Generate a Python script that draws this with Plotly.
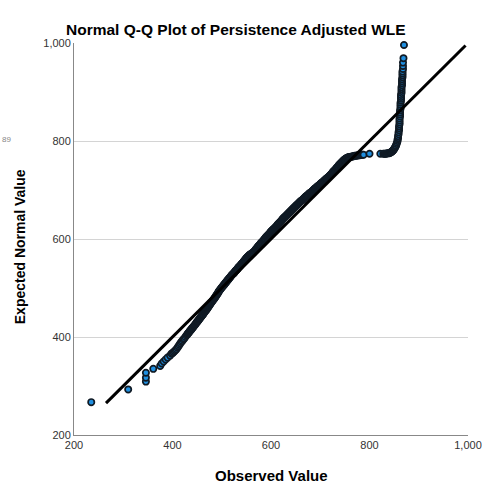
import plotly.graph_objects as go

observed = [
    235, 310, 346, 346, 346, 361, 375, 378, 382, 386, 390, 395, 398,
    400, 402, 404, 406, 408, 410, 412, 414, 416, 418, 420, 422, 424, 426, 428, 430,
    432, 434, 436, 438, 440, 442, 444, 446, 448, 450, 452, 454, 456, 458, 460, 462,
    464, 466, 468, 470, 472, 474, 476, 478, 480, 482, 484, 486, 488, 490, 492, 494,
    496, 498, 500, 502, 504, 506, 508, 510, 512, 514, 516, 518, 520, 522, 524, 526,
    528, 530, 532, 534, 536, 538, 540, 542, 544, 546, 548, 550, 552, 554, 556, 558,
    560, 562, 564, 566, 568, 570, 572, 574, 576, 578, 580, 582, 584, 586, 588, 590,
    592, 594, 596, 598, 600, 602, 604, 606, 608, 610, 612, 614, 616, 618, 620, 622,
    624, 626, 628, 630, 632, 634, 636, 638, 640, 642, 644, 646, 648, 650, 652, 654,
    656, 658, 660, 662, 664, 666, 668, 670, 672, 674, 676, 678, 680, 682, 684, 686,
    688, 690, 692, 694, 696, 698, 700, 702, 704, 706, 708, 710, 712, 714, 716, 718,
    720, 722, 724, 726, 728, 730, 732, 734, 736, 738, 740, 742, 744, 746, 748, 750,
    752, 754, 756, 758, 760, 762, 764, 766, 768, 770, 772, 774, 776, 778, 780, 782,
    784, 786, 788,
    800, 822,
    828, 830, 832, 834, 836, 838, 840, 842, 843, 844, 845, 846, 847, 848, 849, 850,
    851, 852, 853, 854, 855, 856, 857, 857, 858, 858, 859, 859, 860, 860, 860, 861,
    861, 861, 861, 862, 862, 862, 862, 863, 863, 863, 863, 864, 864, 864, 864, 865,
    865, 865, 865, 866, 866, 866, 866, 867, 867, 867, 867, 868, 868, 868, 869, 870,
]
expected = [
    267, 293, 309, 317, 327, 335, 341, 346, 350, 354, 358, 362, 366,
    367, 369, 371, 373, 375, 378, 381, 384, 387, 390, 392, 395, 397, 400, 403, 405,
    408, 410, 413, 415, 418, 420, 423, 425, 428, 431, 433, 436, 439, 441, 444, 446,
    449, 452, 455, 457, 460, 463, 466, 469, 472, 475, 477, 480, 483, 486, 489, 493,
    496, 498, 501, 503, 506, 508, 511, 513, 516, 518, 521, 523, 526, 528, 530, 532,
    535, 537, 539, 542, 544, 546, 549, 551, 553, 556, 558, 561, 563, 565, 567, 568,
    570, 571, 572, 575, 577, 580, 582, 585, 587, 589, 592, 594, 596, 599, 601, 604,
    606, 608, 610, 612, 615, 617, 619, 621, 623, 625, 627, 630, 632, 634, 636, 638,
    641, 643, 645, 647, 649, 651, 653, 655, 657, 659, 661, 663, 665, 667, 669, 671,
    673, 675, 677, 678, 680, 682, 684, 686, 687, 689, 691, 693, 694, 696, 698, 700,
    702, 703, 705, 707, 708, 710, 712, 714, 715, 717, 719, 721, 723, 724, 726, 728,
    730, 732, 734, 737, 739, 741, 743, 746, 748, 751, 753, 755, 757, 759, 761, 762,
    764, 765, 766, 767, 767, 768, 768, 769, 769, 770, 770, 770, 771, 771, 771, 772,
    772, 772, 772,
    774, 774,
    774, 774, 774, 774, 775, 775, 775, 776, 777, 777, 778, 779, 780, 781, 782, 784,
    785, 787, 789, 791, 794, 797, 800, 803, 806, 810, 814, 818, 822, 826, 830, 834,
    838, 842, 846, 850, 854, 858, 862, 866, 870, 874, 878, 882, 886, 890, 894, 898,
    902, 906, 910, 914, 918, 922, 926, 930, 934, 938, 942, 947, 953, 960, 969, 996,
]

# Further readings in the densest (solid black) part of the band
observed_dense = [
    431, 433, 435, 437, 439, 441, 443, 445, 447, 449,
    451, 453, 455, 457, 459, 461, 463, 465, 467, 469, 471, 473, 475, 477, 479, 481,
    483, 485, 487, 489, 491, 493, 495, 497, 499, 501, 503, 505, 507, 509, 511, 513,
    515, 517, 519, 521, 523, 525, 527, 529, 531, 533, 535, 537, 539, 541, 543, 545,
    547, 549, 551, 553, 555, 557, 559, 561, 563, 565, 567, 569, 571, 573, 575, 577,
    579, 581, 583, 585, 587, 589, 591, 593, 595, 597, 599, 601, 603, 605, 607, 609,
    611, 613, 615, 617, 619, 621, 623, 625, 627, 629, 631, 633, 635, 637, 639, 641,
    643, 645, 647, 649, 651, 653, 655, 657, 659, 661, 663, 665, 667, 669, 671, 673,
    675, 677, 679, 681, 683, 685, 687, 689, 691, 693, 695, 697, 699, 701, 703, 705,
    707, 709, 711, 713, 715, 717, 719, 721, 723, 725, 727, 729, 731, 733, 735, 737,
    739, 741, 743, 745, 747, 749, 751, 753, 755, 757, 759,
]
expected_dense = [
    407, 409, 412, 414, 417, 419, 422, 424, 427, 430,
    432, 435, 437, 440, 443, 445, 448, 451, 453, 456, 459, 462, 465, 468, 471, 473,
    476, 479, 482, 485, 488, 491, 494, 497, 500, 502, 505, 507, 510, 512, 515, 517,
    520, 522, 525, 527, 529, 531, 534, 536, 538, 541, 543, 545, 548, 550, 552, 555,
    557, 560, 562, 564, 566, 568, 569, 571, 572, 574, 576, 579, 581, 584, 586, 588,
    591, 593, 595, 598, 600, 603, 605, 607, 609, 611, 614, 616, 618, 620, 622, 624,
    626, 629, 631, 633, 635, 637, 640, 642, 644, 646, 648, 650, 652, 654, 656, 658,
    660, 662, 664, 666, 668, 670, 672, 674, 676, 678, 679, 681, 683, 685, 687, 688,
    690, 692, 694, 695, 697, 699, 701, 703, 704, 706, 708, 709, 711, 713, 715, 716,
    718, 720, 722, 724, 725, 727, 729, 731, 733, 736, 738, 740, 742, 745, 747, 750,
    752, 754, 756, 758, 760, 762, 763, 765, 766, 767, 767,
]

line_x = [265, 995]
line_y = [265, 995]

x_ticks = [200, 400, 600, 800, 1000]
y_ticks = [200, 400, 600, 800, 1000]

FONT = "Liberation Sans, Arial, sans-serif"

# merge the readings and draw them in order of observed value
pairs = sorted(zip(observed + observed_dense, expected + expected_dense))
xs = [p[0] for p in pairs]
ys = [p[1] for p in pairs]

fig = go.Figure()
fig.add_trace(go.Scatter(
    x=xs, y=ys, mode="markers",
    marker=dict(size=6.3, color="#1f8fe0", line=dict(color="#101a24", width=1.7)),
    cliponaxis=False, showlegend=False, hoverinfo="skip",
))
fig.add_trace(go.Scatter(
    x=line_x, y=line_y, mode="lines",
    line=dict(color="black", width=3),
    cliponaxis=False, showlegend=False, hoverinfo="skip",
))

fig.update_layout(
    width=482, height=488,
    margin=dict(l=74, r=14, t=43, b=52.5, autoexpand=False),
    paper_bgcolor="white", plot_bgcolor="white",
    font=dict(family=FONT, color="#222222", size=11),
    xaxis=dict(range=[200, 1000], tickvals=x_ticks, tickformat=",",
               showgrid=False, zeroline=False, showline=True, linecolor="#888888",
               linewidth=1, ticks="", automargin=False, ticklabeloverflow="allow",
               tickfont=dict(size=11, color="#333333")),
    yaxis=dict(range=[200, 1000], tickvals=y_ticks, tickformat=",",
               showgrid=True, gridcolor="#d4d4d4", gridwidth=1, zeroline=False,
               showline=True, linecolor="#888888", linewidth=1, ticks="",
               automargin=False, tickfont=dict(size=11, color="#333333")),
    annotations=[
        dict(text="<b>Normal Q-Q Plot of Persistence Adjusted WLE</b>",
             xref="paper", yref="paper", x=(235.5 - 74) / 394, y=(435.5 - 29) / 392.5,
             xanchor="center", yanchor="middle", showarrow=False,
             font=dict(family=FONT, size=15.5, color="black")),
        dict(text="<b>Observed Value</b>",
             xref="paper", yref="paper", x=(271 - 74) / 394, y=(435.5 - 476) / 392.5,
             xanchor="center", yanchor="middle", showarrow=False,
             font=dict(family=FONT, size=15, color="black")),
        dict(text="<b>Expected Normal Value</b>", textangle=-90,
             xref="paper", yref="paper", x=(20 - 74) / 394, y=(435.5 - 247.5) / 392.5,
             xanchor="center", yanchor="middle", showarrow=False,
             font=dict(family=FONT, size=14, color="black")),
        dict(text="89", xref="paper", yref="paper", x=(0 - 74) / 394, y=(435.5 - 140) / 392.5,
             xanchor="left", yanchor="middle", showarrow=False,
             font=dict(family=FONT, size=8, color="#888888")),
    ],
)

# remove the default page margin so the 482x488 figure fills the window exactly
fig.write_html(
    "out.html",
    config={"displayModeBar": False, "staticPlot": True},
    post_script="document.body.style.margin='0';"
                "document.documentElement.style.overflow='hidden';",
)
